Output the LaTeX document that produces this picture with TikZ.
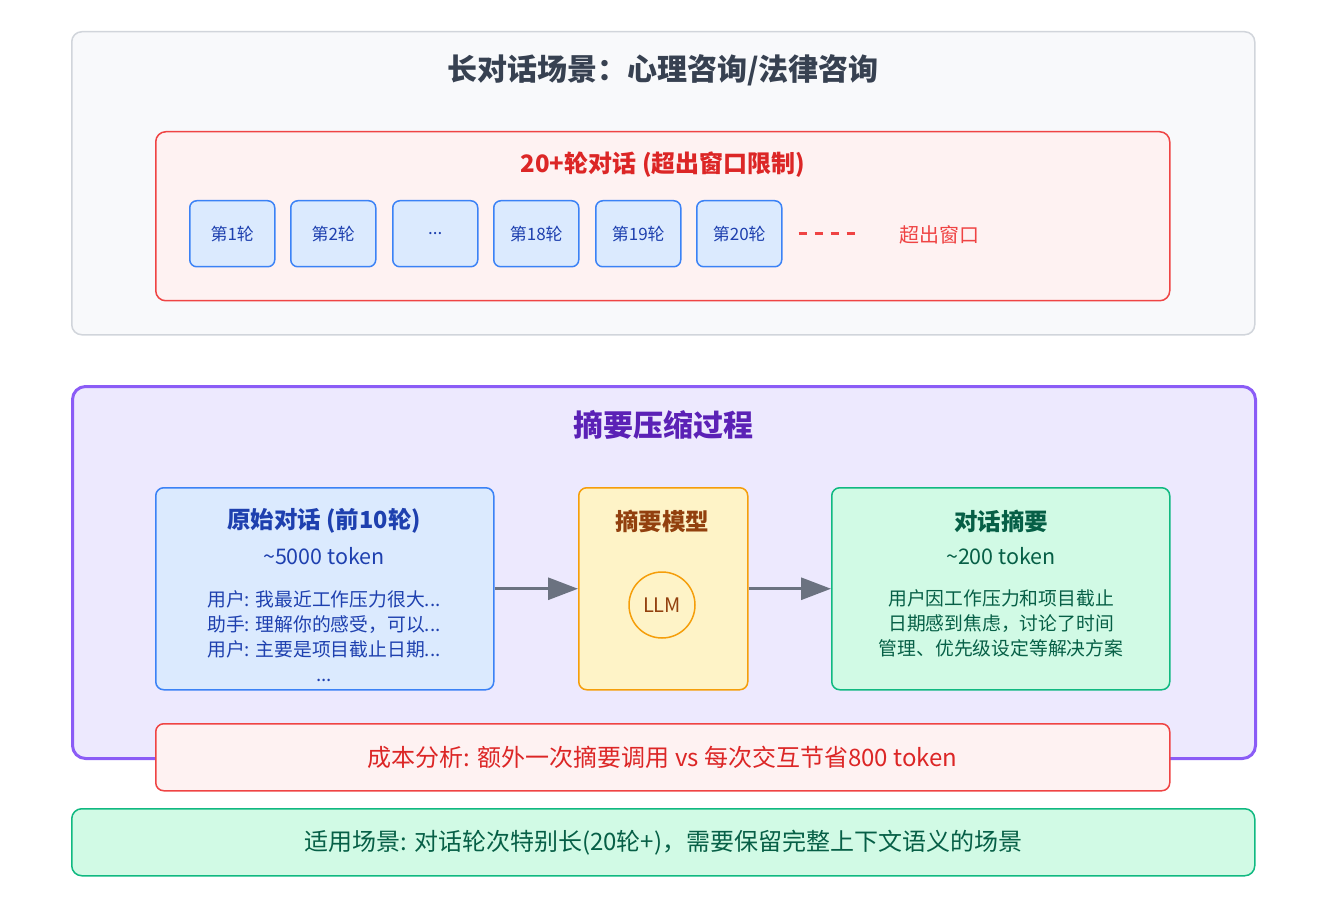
\documentclass[tikz,border=0pt]{standalone}
\usepackage{fontspec}
\setmainfont{Noto Sans CJK SC}
\usetikzlibrary{positioning,arrows.meta}

\definecolor{panelfill}{HTML}{F8F9FB}
\definecolor{panelline}{HTML}{D1D5DB}
\definecolor{paneltext}{HTML}{374151}
\definecolor{redfill}{HTML}{FEF2F2}
\definecolor{redline}{HTML}{EF4444}
\definecolor{redtext}{HTML}{DC2626}
\definecolor{bluefill}{HTML}{DBEAFE}
\definecolor{blueline}{HTML}{3B82F6}
\definecolor{bluetext}{HTML}{1E40AF}
\definecolor{purplefill}{HTML}{EDE9FE}
\definecolor{purpleline}{HTML}{8B5CF6}
\definecolor{purpletext}{HTML}{5B21B6}
\definecolor{amberfill}{HTML}{FEF3C7}
\definecolor{amberline}{HTML}{F59E0B}
\definecolor{ambertext}{HTML}{92400E}
\definecolor{greenfill}{HTML}{D1FAE5}
\definecolor{greenline}{HTML}{10B981}
\definecolor{greentext}{HTML}{065F46}
\definecolor{arrowgray}{HTML}{6B7280}

\begin{document}
\begin{tikzpicture}[x=1pt,y=1pt,yscale=-1,
  box/.style={anchor=north west,inner sep=0pt,rounded corners=10pt,line width=1.5pt},
  turnbox/.style={box,draw=blueline,fill=bluefill,rounded corners=7pt,minimum width=85pt,minimum height=66pt,text=bluetext,font=\fontsize{17}{20}\selectfont},
  bigtitle/.style={font=\fontsize{30}{36}\selectfont\bfseries},
  boxtitle/.style={font=\fontsize{23.5}{28}\selectfont\bfseries},
  tokentext/.style={font=\fontsize{21.5}{26}\selectfont},
  bodytext/.style={align=center,font=\fontsize{18.8}{25}\selectfont},
  flow/.style={draw=arrowgray,line width=3pt,-{Triangle[length=30pt,width=22pt]}}]

\useasboundingbox (0,0) rectangle (1326,912);

% Scene panel
\draw (71,31) node (scene) [box,draw=panelline,fill=panelfill,minimum width=1183pt,minimum height=303pt] {};
\draw (663,70) node (scenetitle) [bigtitle,text=paneltext] {长对话场景：心理咨询/法律咨询};

\draw (155,131) node (window) [box,draw=redline,fill=redfill,minimum width=1014pt,minimum height=169pt] {};
\draw (663,165) node (windowtitle) [text=redtext,font=\fontsize{24}{28}\selectfont\bfseries] {20+轮对话 (超出窗口限制)};

\draw (189,200) node (r1) [turnbox] {第1轮};
\draw (290,200) node (r2) [turnbox] {第2轮};
\draw (392,200) node (rdots) [turnbox] {...};
\draw (493,200) node (r18) [turnbox] {第18轮};
\draw (595,200) node (r19) [turnbox] {第19轮};
\draw (696,200) node (r20) [turnbox] {第20轮};

\coordinate (cutstart) at ([xshift=16pt]r20.east);
\coordinate (cutend) at ([xshift=76pt]r20.east);
\draw [draw=redline,line width=3pt,dash pattern=on 8pt off 8pt] (cutstart) -- (cutend);
\draw (939,235) node (overflow) [text=redline,font=\fontsize{20}{24}\selectfont] {超出窗口};

% Compression panel
\draw (71,385) node (process) [box,draw=purpleline,fill=purplefill,line width=3pt,rounded corners=13pt,minimum width=1183pt,minimum height=372pt] {};
\draw (663,425) node (processtitle) [bigtitle,text=purpletext] {摘要压缩过程};

\draw (155,487) node (orig) [box,draw=blueline,fill=bluefill,rounded corners=8pt,minimum width=338pt,minimum height=202pt] {};
\draw (324,521) node (origtitle) [boxtitle,text=bluetext] {原始对话 (前10轮)};
\draw (324,556) node (origtoken) [tokentext,text=bluetext] {\textasciitilde 5000 token};
\draw (324,636) node (origbody) [bodytext,text=bluetext] {用户: 我最近工作压力很大...\\助手: 理解你的感受，可以...\\用户: 主要是项目截止日期...\\...};

\draw (578,487) node (model) [box,draw=amberline,fill=amberfill,rounded corners=8pt,minimum width=169pt,minimum height=202pt] {};
\draw (662,521) node (modeltitle) [boxtitle,text=ambertext] {摘要模型};
\draw (662,605) node (llm) [circle,draw=amberline,line width=1.5pt,minimum size=66pt,inner sep=0pt,text=ambertext,font=\fontsize{20}{24}\selectfont] {LLM};

\draw (831,487) node (summary) [box,draw=greenline,fill=greenfill,rounded corners=8pt,minimum width=338pt,minimum height=202pt] {};
\draw (1001,521) node (summarytitle) [boxtitle,text=greentext] {对话摘要};
\draw (1001,556) node (summarytoken) [tokentext,text=greentext] {\textasciitilde 200 token};
\draw (1001,623) node (summarybody) [bodytext,text=greentext] {用户因工作压力和项目截止\\日期感到焦虑，讨论了时间\\管理、优先级设定等解决方案};

\draw [flow] (orig.east) -- (model.west);
\draw [flow] (model.east) -- (summary.west);

\draw (155,723) node (cost) [box,draw=redline,fill=redfill,rounded corners=8pt,minimum width=1014pt,minimum height=67pt,text=redtext,font=\fontsize{24}{28}\selectfont] {成本分析: 额外一次摘要调用 vs 每次交互节省800 token};

% Usage note
\draw (71,808) node (usage) [box,draw=greenline,fill=greenfill,minimum width=1183pt,minimum height=67pt,text=greentext,font=\fontsize{24}{28}\selectfont] {适用场景: 对话轮次特别长(20轮+)，需要保留完整上下文语义的场景};

\end{tikzpicture}
\end{document}
